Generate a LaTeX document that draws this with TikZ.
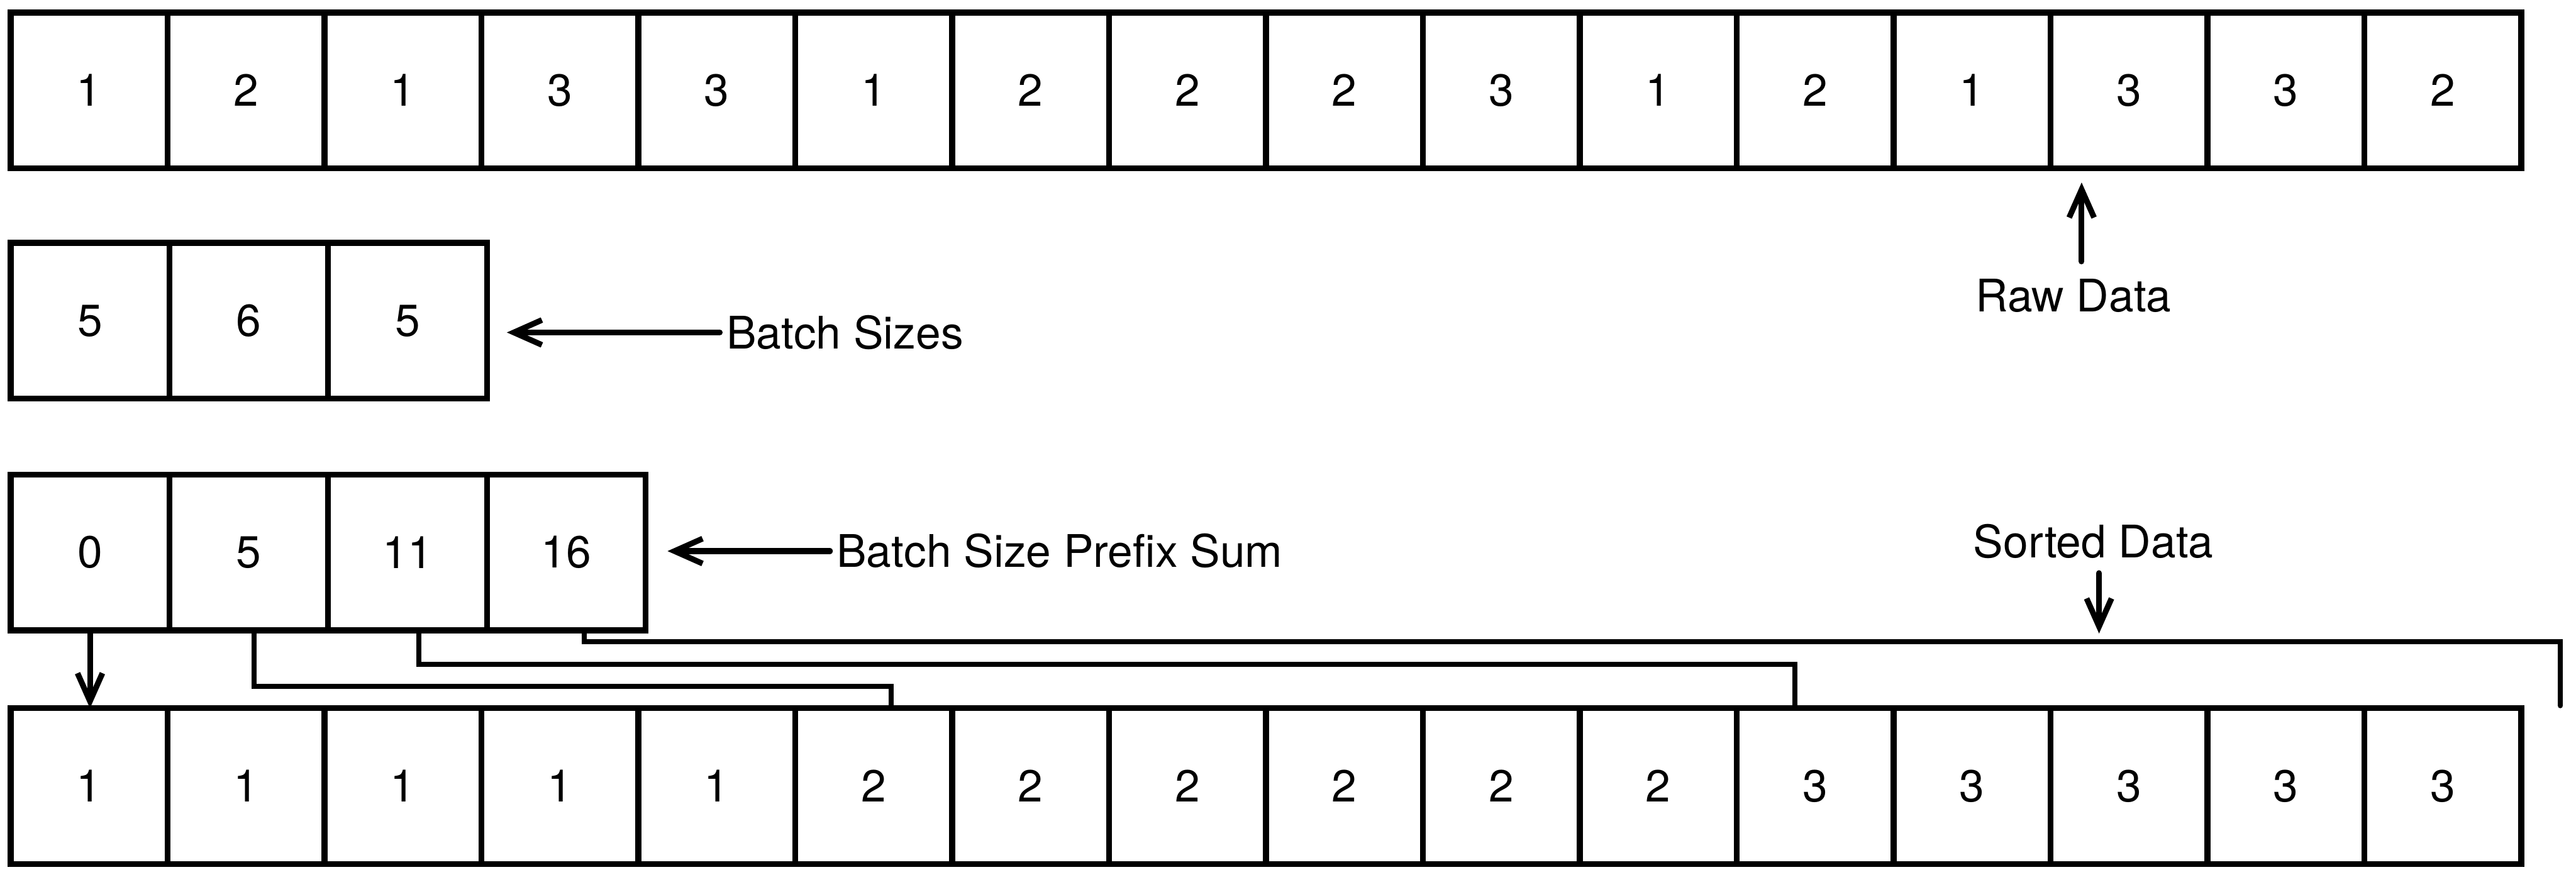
\documentclass[tikz,border=0pt]{standalone}
\usepackage{fontspec}
\setmainfont{TeX Gyre Heros}
\usepackage{tikz}
\usepackage{xcolor}
\usetikzlibrary{arrows.meta,positioning}

\begin{document}
\begin{tikzpicture}[
cell/.style={draw, line width=2.7pt, minimum width=2.52cm, minimum height=2.5cm, inner sep=0pt, outer sep=0pt, font=\fontsize{20.5}{24}\selectfont},
widecell/.style={cell, minimum width=2.55cm},
lbl/.style={inner sep=1mm, font=\fontsize{20.5}{24}\selectfont},
arrow/.style={-{Straight Barb[length=4.5mm,width=4mm]}, line width=2.6pt, line cap=round},
conn/.style={line width=2.3pt, line cap=round}
]
\path[use as bounding box, fill=white] (0,0) rectangle (41.37,-14.16);
% raw data
\node[cell] (raw1) at (1.43,-1.45) {1};
\node[cell, right=0pt of raw1] (raw2) {2};
\node[cell, right=0pt of raw2] (raw3) {1};
\node[cell, right=0pt of raw3] (raw4) {3};
\node[cell, right=0pt of raw4] (raw5) {3};
\node[cell, right=0pt of raw5] (raw6) {1};
\node[cell, right=0pt of raw6] (raw7) {2};
\node[cell, right=0pt of raw7] (raw8) {2};
\node[cell, right=0pt of raw8] (raw9) {2};
\node[cell, right=0pt of raw9] (raw10) {3};
\node[cell, right=0pt of raw10] (raw11) {1};
\node[cell, right=0pt of raw11] (raw12) {2};
\node[cell, right=0pt of raw12] (raw13) {1};
\node[cell, right=0pt of raw13] (raw14) {3};
\node[cell, right=0pt of raw14] (raw15) {3};
\node[cell, right=0pt of raw15] (raw16) {2};
% batch sizes
\node[widecell, below=1.2cm of raw1.south west, anchor=north west] (bs1) {5};
\node[widecell, right=0pt of bs1] (bs2) {6};
\node[widecell, right=0pt of bs2] (bs3) {5};
% prefix sum
\node[widecell, below=1.22cm of bs1] (pre1) {0};
\node[widecell, right=0pt of pre1] (pre2) {5};
\node[widecell, right=0pt of pre2] (pre3) {11};
\node[widecell, right=0pt of pre3] (pre4) {16};
% sorted data
\node[cell, below=1.25cm of pre1.south west, anchor=north west] (srt1) {1};
\node[cell, right=0pt of srt1] (srt2) {1};
\node[cell, right=0pt of srt2] (srt3) {1};
\node[cell, right=0pt of srt3] (srt4) {1};
\node[cell, right=0pt of srt4] (srt5) {1};
\node[cell, right=0pt of srt5] (srt6) {2};
\node[cell, right=0pt of srt6] (srt7) {2};
\node[cell, right=0pt of srt7] (srt8) {2};
\node[cell, right=0pt of srt8] (srt9) {2};
\node[cell, right=0pt of srt9] (srt10) {2};
\node[cell, right=0pt of srt10] (srt11) {2};
\node[cell, right=0pt of srt11] (srt12) {3};
\node[cell, right=0pt of srt12] (srt13) {3};
\node[cell, right=0pt of srt13] (srt14) {3};
\node[cell, right=0pt of srt14] (srt15) {3};
\node[cell, right=0pt of srt15] (srt16) {3};
% labels
\node[lbl, anchor=base west] (bsl) at (11.56,-5.60) {Batch Sizes};
\node[lbl, anchor=base west] (prel) at (13.33,-9.11) {Batch Size Prefix Sum};
\node[lbl, anchor=base] (rawl) at (33.30,-5.00) {Raw Data};
\node[lbl, anchor=base] (srtl) at (33.62,-8.95) {Sorted Data};
\coordinate (rimtop) at (41.12,-10.30);
\coordinate (rimend) at (41.12,-11.33);
% arrows
\draw[arrow, shorten >=0.32cm] (bsl.west) -- (bsl.west -| bs3.east);
\draw[arrow, shorten >=0.35cm] (prel.west) -- (prel.west -| pre4.east);
\draw[arrow, shorten <=0.17cm, shorten >=0.23cm] ([xshift=1.3mm]rawl.north) -- ([xshift=1.3mm]rawl.north |- raw14.south);
\draw[arrow, shorten <=0.13cm, shorten >=0.13cm] ([xshift=0.9mm]srtl.south) -- ([xshift=0.9mm]srtl.south |- rimtop);
\draw[arrow] (pre1) -- (pre1 |- srt1.north);
% offsets into sorted data
\draw[conn] ([xshift=0.9mm]pre2.south) -- ++(0,-0.90) -| ([xshift=2.8mm]srt6.north);
\draw[conn] ([xshift=1.8mm]pre3.south) -- ++(0,-0.55) -| ([xshift=-3.2mm]srt12.north);
\draw[conn] ([xshift=2.9mm]pre4.south) |- (rimtop) -- (rimend);
\end{tikzpicture}
\end{document}
